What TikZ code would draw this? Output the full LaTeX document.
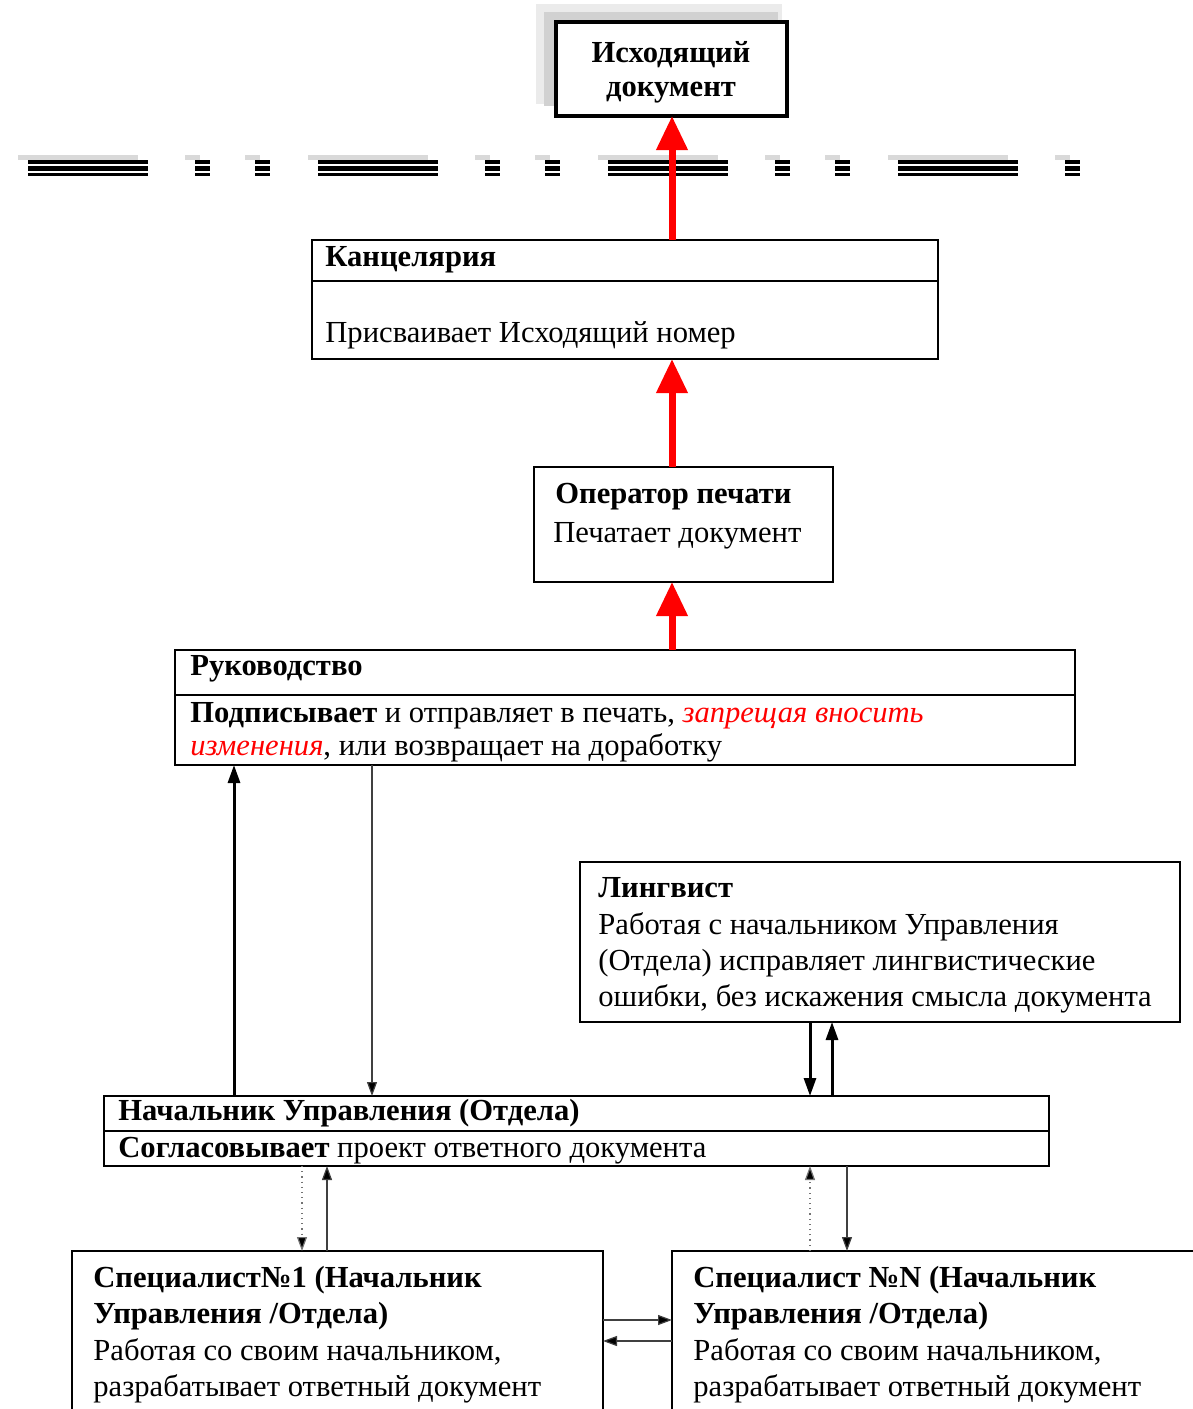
\documentclass[tikz,border=0pt]{standalone}
\usepackage{fontspec}
\setmainfont{Liberation Serif}
\usetikzlibrary{arrows.meta}
\newcommand\fsz{\fontsize{15.3}{18}\selectfont}
\begin{document}
\begin{tikzpicture}[x=0.5pt,y=-0.5pt,
  box/.style={draw,line width=1pt,fill=white,rectangle,inner sep=0pt,outer sep=0pt,anchor=north west},
  txt/.style={anchor=base west,inner sep=0pt,font=\fsz},
  btxt/.style={anchor=base west,inner sep=0pt,font=\fsz\bfseries},
  redarr/.style={draw=red,line width=3.5pt,-{Triangle[length=17pt,width=15pt,fill=red]}},
  thickarr/.style={line width=1.5pt,-{Triangle[length=9pt,width=6pt]}},
  thinarr/.style={draw=black!75,line width=0.6pt,-{Triangle[length=7pt,width=5pt,fill=black]}},
  dotarr/.style={draw=black!55,line width=0.6pt,dotted,-{Triangle[length=7pt,width=5pt,fill=black]}},
  dashline/.style={dash pattern=on 60pt off 23.5pt on 7.5pt off 22.5pt on 7.5pt off 24pt}
]
\useasboundingbox (0,0) rectangle (1193,1409);
% shadow of the top box
\fill[black!8] (536,4) rectangle (782,104);
\fill[black!18] (544,12) rectangle (778,106);
\node[box,line width=2pt,minimum width=115.5pt,minimum height=47pt] (ishod) at (556,22) {};
\node[anchor=base,inner sep=0pt,font=\fsz\bfseries] (ishod1) at (671,62) {Исходящий};
\node[anchor=base,inner sep=0pt,font=\fsz\bfseries] (ishod2) at (671,96) {документ};
% dashed separator
\coordinate (dl) at (28,168);
\coordinate (dr) at (1090,168);
\coordinate (dls) at (18,157);
\coordinate (drs) at (1080,157);
\draw[black!15,line width=2.5pt,dashline] (dls) -- (drs);
\draw[line width=8pt,dashline] (dl) -- (dr);
\draw[white,line width=0.9pt,dashline] ([yshift=1.6pt]dl) -- ([yshift=1.6pt]dr);
\draw[white,line width=0.9pt,dashline] ([yshift=-1.8pt]dl) -- ([yshift=-1.8pt]dr);
% Канцелярия
\node[box,minimum width=313pt,minimum height=59.5pt] (kanc) at (312,240) {};
\draw[line width=1pt] (312,281) -- (938,281);
\node[btxt] (kanc1) at (325,266) {Канцелярия};
\node[txt] (kanc2) at (325,342) {Присваивает Исходящий номер};
% Оператор печати
\node[box,minimum width=149.5pt,minimum height=57.5pt] (oper) at (534,467) {};
\node[btxt] (oper1) at (555,503) {Оператор печати};
\node[txt] (oper2) at (553,542) {Печатает документ};
% Руководство
\node[box,minimum width=450pt,minimum height=57.5pt] (ruk) at (175,650) {};
\draw[line width=1pt] (175,695) -- (1075,695);
\node[btxt] (ruk1) at (190,675) {Руководство};
\node[txt] (ruk2) at (190,722) {\textbf{Подписывает} и отправляет в печать, \textcolor{red}{\itshape запрещая вносить}};
\node[txt] (ruk3) at (190,755) {\textcolor{red}{\itshape изменения}, или возвращает на доработку};
% Лингвист
\node[box,minimum width=300pt,minimum height=80pt] (ling) at (580,862) {};
\node[btxt] (ling1) at (598,897) {Лингвист};
\node[txt] (ling2) at (598,934) {Работая с начальником Управления};
\node[txt] (ling3) at (598,970) {(Отдела) исправляет лингвистические};
\node[txt] (ling4) at (598,1006) {ошибки, без искажения смысла документа};
% Начальник
\node[box,minimum width=472.5pt,minimum height=35pt] (nach) at (104,1096) {};
\draw[line width=1pt] (104,1131) -- (1049,1131);
\node[btxt] (nach1) at (118,1120) {Начальник Управления (Отдела)};
\node[txt] (nach2) at (118,1157) {\textbf{Согласовывает} проект ответного документа};
% Специалисты
\node[box,minimum width=265.5pt,minimum height=100pt] (sp1) at (72,1251) {};
\node[btxt] (sp11) at (93,1287) {Специалист№1 (Начальник};
\node[btxt] (sp12) at (93,1323) {Управления /Отдела)};
\node[txt] (sp13) at (93,1360) {Работая со своим начальником,};
\node[txt] (sp14) at (93,1396) {разрабатывает ответный документ};
\node[box,minimum width=266pt,minimum height=100pt] (spn) at (672,1251) {};
\node[btxt] (spn1) at (693,1287) {Специалист №N (Начальник};
\node[btxt] (spn2) at (693,1323) {Управления /Отдела)};
\node[txt] (spn3) at (693,1360) {Работая со своим начальником,};
\node[txt] (spn4) at (693,1396) {разрабатывает ответный документ};
% connector x positions
\coordinate (xr) at (672,0);
\coordinate (xa) at (234,0);
\coordinate (xb) at (372,0);
\coordinate (xc) at (810,0);
\coordinate (xd) at (832,0);
\coordinate (xe) at (302,0);
\coordinate (xf) at (327,0);
\coordinate (xg) at (847,0);
\coordinate (ya) at (0,1320);
\coordinate (yb) at (0,1341);
% red arrows
\draw[redarr] (kanc.north -| xr) -- (ishod.south -| xr);
\draw[redarr] (oper.north -| xr) -- (kanc.south -| xr);
\draw[redarr] (ruk.north -| xr) -- (oper.south -| xr);
% Руководство <-> Начальник
\draw[thickarr] (nach.north -| xa) -- (ruk.south -| xa);
\draw[thinarr] (ruk.south -| xb) -- (nach.north -| xb);
% Лингвист <-> Начальник
\draw[thickarr] (ling.south -| xc) -- (nach.north -| xc);
\draw[thickarr] (nach.north -| xd) -- (ling.south -| xd);
% Начальник <-> Специалисты
\draw[dotarr] (nach.south -| xe) -- (sp1.north -| xe);
\draw[thinarr] (sp1.north -| xf) -- (nach.south -| xf);
\draw[dotarr] (spn.north -| xc) -- (nach.south -| xc);
\draw[thinarr] (nach.south -| xg) -- (spn.north -| xg);
% Специалист1 <-> СпециалистN
\draw[thinarr] (sp1.east |- ya) -- (spn.west |- ya);
\draw[thinarr] (spn.west |- yb) -- (sp1.east |- yb);
\end{tikzpicture}
\end{document}
